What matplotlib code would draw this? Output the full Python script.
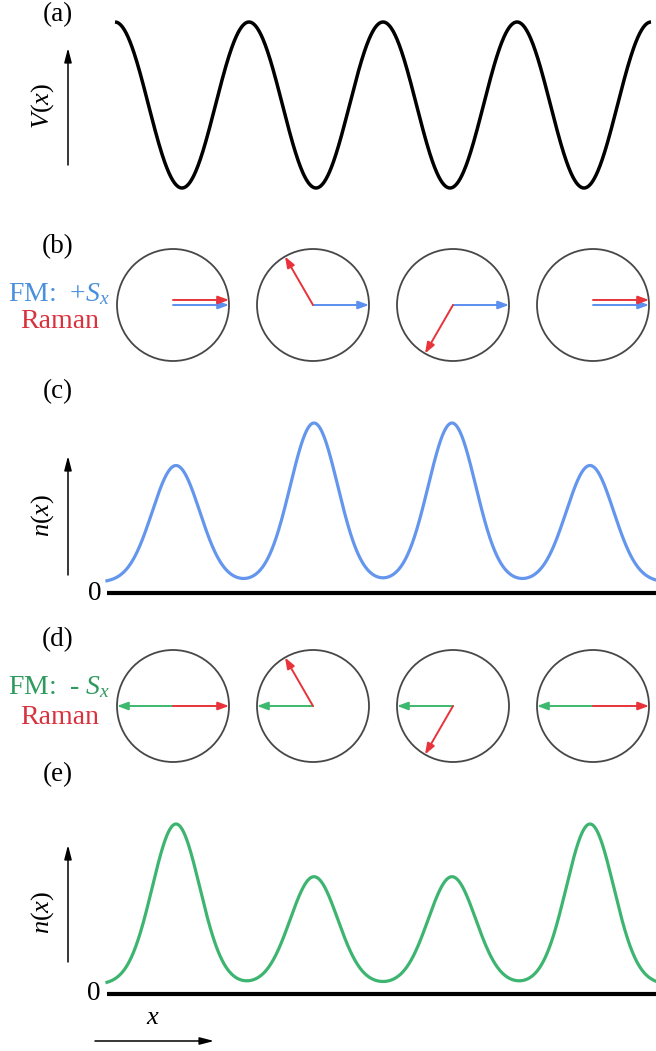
import numpy as np
import matplotlib
matplotlib.use("Agg")
import matplotlib.pyplot as plt
from matplotlib.patches import Circle

plt.rcParams["font.family"] = ["Liberation Serif", "DejaVu Serif"]
plt.rcParams["mathtext.fontset"] = "custom"
plt.rcParams["mathtext.rm"] = "Liberation Serif"
plt.rcParams["mathtext.it"] = "Liberation Serif:italic"

# ---- data -------------------------------------------------------------
sites = [0, 1, 2, 3]                      # lattice sites (units of lattice spacing)
lattice_depth = 1.0                       # V(x) = -V0 cos(2 pi x)
raman_angles_deg = [0, 120, 240, 360]     # Raman-induced spin angle at each site
fm_plus_angle_deg = 0                     # FM: +S_x
fm_minus_angle_deg = 180                  # FM: -S_x
density_plus_peaks = [0.75, 1.0, 1.0, 0.75]   # n at each site, FM +S_x
density_minus_peaks = [1.0, 0.69, 0.69, 1.0]  # n at each site, FM -S_x
density_plus_floor = 0.062
density_minus_floor = 0.055
peak_width = 0.172                        # Gaussian sigma, lattice units

# ---- colours ----------------------------------------------------------
BLUE_LINE, BLUE_ARROW, BLUE_TEXT = "#6496EE", "#5B8FF0", "#4A90DC"
RED_ARROW, RED_TEXT = "#E8333A", "#D8323E"
GREEN_LINE, GREEN_ARROW, GREEN_TEXT = "#3DB570", "#3DB96F", "#2E9A5E"

W, H = 656, 1051
fig = plt.figure(figsize=(W / 100, H / 100), dpi=100)


def panel_axes(x0_px, xscale, y0_px, yscale):
    """Full-figure axes whose data origin sits at pixel (x0, y0) from top-left."""
    ax = fig.add_axes([0, 0, 1, 1])
    ax.set_xlim(-x0_px / xscale, (W - x0_px) / xscale)
    ax.set_ylim((y0_px - H) / yscale, y0_px / yscale)
    ax.axis("off")
    ax.patch.set_alpha(0)
    return ax


def density(x, peaks, floor):
    n = np.full_like(x, floor)
    for s, p in zip(sites, peaks):
        n += (p - floor) * np.exp(-(x - s) ** 2 / (2 * peak_width ** 2))
    return n


def arrow(ax, start, end, color, lw=1.4, hl=0.65, hw=0.24, ms=10):
    ax.annotate("", xy=end, xytext=start, xycoords="data",
                arrowprops=dict(arrowstyle=f"-|>,head_length={hl},head_width={hw}",
                                color=color, lw=lw, mutation_scale=ms,
                                shrinkA=0, shrinkB=0))


# overlay in pixel coordinates for labels and axis arrows
deco = fig.add_axes([0, 0, 1, 1])
deco.set_xlim(0, W)
deco.set_ylim(H, 0)
deco.axis("off")
deco.patch.set_alpha(0)

# ---- (a) lattice potential -------------------------------------------
ax_a = panel_axes(182, 134, 105, 83)
xa = np.linspace(-0.5, 3.5, 1200)
ax_a.plot(xa, -lattice_depth * np.cos(2 * np.pi * xa), color="black", lw=2.5,
          solid_capstyle="butt")

# ---- (c) and (e) densities --------------------------------------------
xd = np.linspace(-0.5, 3.5, 1200)
ax_c = panel_axes(176, 138, 593, 170)
ax_c.plot(xd, density(xd, density_plus_peaks, density_plus_floor),
          color=BLUE_LINE, lw=2.3)
ax_c.plot([-0.5, 3.55], [0, 0], color="black", lw=3.0, solid_capstyle="butt")

ax_e = panel_axes(176, 138, 994, 170)
ax_e.plot(xd, density(xd, density_minus_peaks, density_minus_floor),
          color=GREEN_LINE, lw=2.3)
ax_e.plot([-0.5, 3.55], [0, 0], color="black", lw=3.0, solid_capstyle="butt")

# ---- (b) and (d) spin circles -------------------------------------------
R = 0.4
par_shift = 0.036


def spin_row(ax, fm_angle, fm_color):
    for s, ang in zip(sites, raman_angles_deg):
        ax.add_patch(Circle((s, 0), R, fill=False, ec="#474747", lw=1.3))
        fa = np.deg2rad(fm_angle)
        arrow(ax, (s, 0), (s + R * np.cos(fa), R * np.sin(fa)), fm_color)
        ra = np.deg2rad(ang)
        dy = par_shift if (ang - fm_angle) % 360 == 0 else 0.0
        arrow(ax, (s, dy), (s + R * np.cos(ra), dy + R * np.sin(ra)), RED_ARROW)


ax_b = panel_axes(173, 140, 305, 140)
spin_row(ax_b, fm_plus_angle_deg, BLUE_ARROW)
ax_d = panel_axes(173, 140, 706, 140)
spin_row(ax_d, fm_minus_angle_deg, GREEN_ARROW)

# ---- labels -------------------------------------------------------------
for lab, y in zip(["(a)", "(b)", "(c)", "(d)", "(e)"], [15, 247, 392, 640, 775]):
    deco.text(58, y, lab, fontsize=19.5, ha="center", va="center")

deco.text(59, 294, r"FM:  $+S_x$", fontsize=20, color=BLUE_TEXT,
          ha="center", va="center")
deco.text(60, 321, "Raman", fontsize=20, color=RED_TEXT, ha="center", va="center")
deco.text(59, 687, r"FM:  - $S_x$", fontsize=20, color=GREEN_TEXT,
          ha="center", va="center")
deco.text(60, 718, "Raman", fontsize=20, color=RED_TEXT, ha="center", va="center")

# vertical axis arrows with their labels
for (y_bot, y_top), lab, y_lab in zip([(165, 48), (575, 456), (962, 845)],
                                      [r"$V(x)$", r"$n(x)$", r"$n(x)$"],
                                      [106, 515, 912]):
    arrow(deco, (68, y_bot), (68, y_top), "black", lw=1.1, hl=0.85, hw=0.22)
    deco.text(43, y_lab, lab, fontsize=19, rotation=90,
              ha="center", va="center")

deco.text(95, 593, "0", fontsize=19.5, ha="center", va="center")
deco.text(94, 994, "0", fontsize=19.5, ha="center", va="center")

# horizontal x arrow
deco.text(153, 1018, r"$x$", fontsize=19, ha="center", va="center")
arrow(deco, (95, 1041), (214, 1041), "black", lw=1.1, hl=0.85, hw=0.22)

fig.savefig("out.png", dpi=100, facecolor="white")
